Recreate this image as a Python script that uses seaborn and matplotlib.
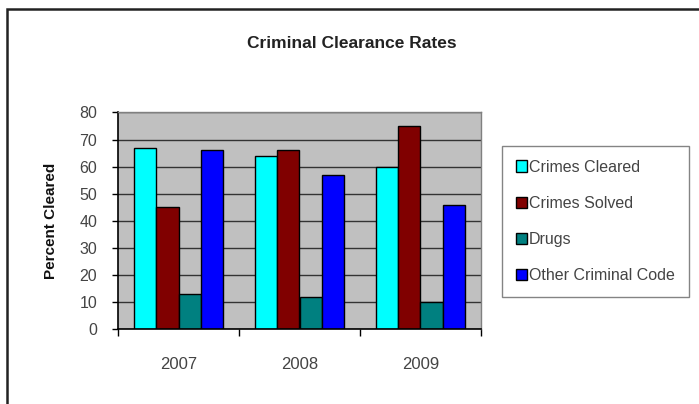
import matplotlib
matplotlib.use("Agg")
import matplotlib.pyplot as plt
import matplotlib.patches as mpatches
import seaborn as sns
import pandas as pd

# Data
years = ["2007", "2008", "2009"]
series = ["Crimes Cleared", "Crimes Solved", "Drugs", "Other Criminal Code"]
crimes_cleared = [67, 64, 60]
crimes_solved = [45, 66, 75]
drugs = [13, 12, 10]
other_code = [66, 57, 46]
colors = ["#00FFFF", "#800000", "#008080", "#0000FF"]

rows = []
for name, vals in zip(series, [crimes_cleared, crimes_solved, drugs, other_code]):
    for y, v in zip(years, vals):
        rows.append({"Year": y, "Series": name, "Value": v})
df = pd.DataFrame(rows)

sns.set_style("white")
plt.rcParams["font.family"] = ["Liberation Sans", "DejaVu Sans"]

fig = plt.figure(figsize=(6.99, 4.04), dpi=100)
ax = fig.add_axes([118 / 699, 1 - 329 / 404, 363 / 699, 216.5 / 404])
ax.set_facecolor("#C0C0C0")

sns.barplot(data=df, x="Year", y="Value", hue="Series", hue_order=series,
            palette=colors, width=0.73, edgecolor="black", linewidth=1.0,
            ax=ax, legend=True, saturation=1)

ax.set_ylim(0, 80)
ax.set_xlim(-0.5, 2.5)
ax.set_yticks(range(0, 81, 10))
ax.yaxis.grid(True, color="#333333", linewidth=1.0)
ax.set_axisbelow(True)

ax.tick_params(axis="y", direction="out", length=4, width=1, color="black",
               labelsize=11.5, labelcolor="#444444", pad=11, left=True)
ax.set_xticks([0, 1, 2])
ax.set_xticklabels(years)
ax.tick_params(axis="x", which="major", length=0, labelsize=12,
               labelcolor="#444444", pad=20)
ax.set_xticks([-0.5, 0.5, 1.5, 2.5], minor=True)
ax.tick_params(axis="x", which="minor", direction="out", length=5, width=1,
               color="black", bottom=True)

for side in ["left", "bottom"]:
    ax.spines[side].set_color("black")
    ax.spines[side].set_linewidth(1.2)
for side in ["top", "right"]:
    ax.spines[side].set_color("#808080")
    ax.spines[side].set_linewidth(1.0)

ax.set_xlabel("")
ax.set_ylabel("Percent Cleared", fontsize=11, fontweight="bold",
              color="#111111", labelpad=15)

fig.text(352 / 699, 1 - 43 / 404, "Criminal Clearance Rates", ha="center",
         va="center", fontsize=12.5, fontweight="bold", color="#222222")

handles, labels = ax.get_legend_handles_labels()
ax.legend_.remove()
leg = fig.legend(handles, labels, loc="upper left",
                 bbox_to_anchor=(502 / 699, 1 - 146 / 404),
                 frameon=True, fancybox=False, edgecolor="#666666",
                 fontsize=11.5, handlelength=0.7, handleheight=0.7,
                 handletextpad=0.15, labelspacing=1.33, borderpad=0.85,
                 borderaxespad=0)
leg.get_frame().set_linewidth(1.0)
for t in leg.get_texts():
    t.set_color("#444444")

# outer chart border (cut at right and bottom edges)
border = mpatches.Rectangle((7 / 699, -0.1), 1.2, 1 - 9 / 404 + 0.1,
                            transform=fig.transFigure, fill=False,
                            edgecolor="#222222", linewidth=1.8)
fig.patches.append(border)

fig.savefig("out.png", dpi=100, facecolor="white")
